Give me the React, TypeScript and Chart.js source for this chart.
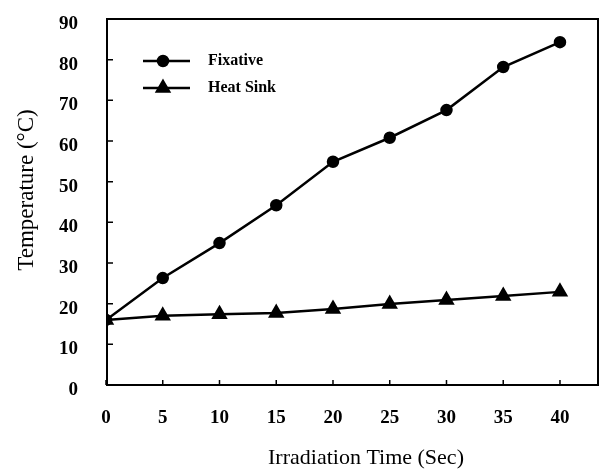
import React, { useEffect, useRef } from 'react';
import { Chart, registerables } from 'chart.js';
import { drawPoint } from 'chart.js/helpers';

Chart.register(...registerables);

const times = [0, 5, 10, 15, 20, 25, 30, 35, 40];
const fixative = [16, 26.3, 34.9, 44.2, 54.9, 60.8, 67.6, 78.2, 84.3];
const heatSink = [16, 17, 17.4, 17.7, 18.7, 19.9, 20.9, 21.9, 22.9];
const seriesNames = ['Fixative', 'Heat Sink'];
const xTitle = 'Irradiation Time (Sec)';
const yTitle = 'Temperature (\u00B0C)';

const SERIF = "'Liberation Serif', 'DejaVu Serif', serif";

const framePlugin = {
  id: 'frame',
  afterDatasetsDraw(chart: any) {
    const { ctx, chartArea } = chart;
    const { left, right, top, bottom } = chartArea;
    const xs = chart.scales.x;
    const ys = chart.scales.y;
    ctx.save();
    ctx.strokeStyle = '#000';
    ctx.lineWidth = 2;
    ctx.strokeRect(left + 1, top, right - left - 1, bottom - top);
    ctx.lineWidth = 1.5;
    ctx.beginPath();
    xs.ticks.forEach((t: any) => {
      const px = xs.getPixelForValue(t.value);
      ctx.moveTo(px, bottom);
      ctx.lineTo(px, bottom - 5);
    });
    ys.ticks.forEach((t: any) => {
      const py = ys.getPixelForValue(t.value);
      ctx.moveTo(left + 1, py);
      ctx.lineTo(left + 7, py);
    });
    ctx.stroke();

    // legend inside plot area
    chart.data.datasets.forEach((ds: any, i: number) => {
      const y = top + 42 + i * 27;
      const x0 = left + 37;
      const x1 = left + 84;
      ctx.strokeStyle = ds.borderColor;
      ctx.lineWidth = ds.borderWidth;
      ctx.beginPath();
      ctx.moveTo(x0, y);
      ctx.lineTo(x1, y);
      ctx.stroke();
      ctx.fillStyle = ds.pointBackgroundColor;
      ctx.strokeStyle = ds.pointBorderColor;
      drawPoint(ctx, { pointStyle: ds.pointStyle, radius: ds.pointRadius, borderWidth: 1, rotation: 0 }, left + 57, y);
      ctx.fillStyle = '#000';
      ctx.font = `bold 16px ${SERIF}`;
      ctx.textBaseline = 'middle';
      ctx.textAlign = 'left';
      ctx.fillText(ds.label, left + 102, y);
    });

    // axis titles
    ctx.fillStyle = '#000';
    ctx.textAlign = 'center';
    ctx.textBaseline = 'middle';
    ctx.font = `22px ${SERIF}`;
    ctx.fillText(xTitle, (left + right) / 2 + 14, bottom + 73);
    ctx.save();
    ctx.translate(left - 79, (top + bottom) / 2 - 12);
    ctx.rotate(-Math.PI / 2);
    ctx.font = `23px ${SERIF}`;
    ctx.fillText(yTitle, 0, 0);
    ctx.restore();
    ctx.restore();
  },
};

export default function App() {
  const ref = useRef<HTMLCanvasElement | null>(null);
  useEffect(() => {
    if (!ref.current) return;
    const chart = new Chart(ref.current, {
      type: 'line',
      data: {
        datasets: [
          {
            label: seriesNames[0],
            data: times.map((t, i) => ({ x: t, y: fixative[i] })),
            borderColor: '#000',
            backgroundColor: '#000',
            pointBackgroundColor: '#000',
            pointBorderColor: '#000',
            borderWidth: 2.5,
            pointStyle: 'circle',
            pointRadius: 5,
            tension: 0,
          },
          {
            label: seriesNames[1],
            data: times.map((t, i) => ({ x: t, y: heatSink[i] })),
            borderColor: '#000',
            backgroundColor: '#000',
            pointBackgroundColor: '#000',
            pointBorderColor: '#000',
            borderWidth: 2.5,
            pointStyle: 'triangle',
            pointRadius: 7,
            tension: 0,
          },
        ],
      },
      options: {
        animation: false,
        responsive: true,
        maintainAspectRatio: false,
        layout: { padding: { top: 19, right: 11, left: 0, bottom: 0 } },
        plugins: { legend: { display: false }, tooltip: { enabled: false } },
        scales: {
          x: {
            type: 'linear',
            min: 0,
            max: 43.35,
            grid: { display: false, drawTicks: false },
            border: { display: false },
            ticks: {
              stepSize: 5,
              includeBounds: false,
              color: '#000',
              padding: 22,
              font: { family: SERIF, size: 19, weight: 'bold' },
            },
            afterFit: (s: any) => { s.height = 84; s.paddingLeft = 0; s.paddingRight = 0; },
          },
          y: {
            type: 'linear',
            min: 0,
            max: 90,
            grid: { display: false, drawTicks: false },
            border: { display: false },
            ticks: {
              stepSize: 10,
              color: '#000',
              padding: 28,
              labelOffset: 5,
              font: { family: SERIF, size: 19, weight: 'bold' },
            },
            afterFit: (s: any) => { s.width = 106; s.paddingTop = 0; s.paddingBottom = 0; },
          },
        },
      },
      plugins: [framePlugin],
    } as any);
    return () => chart.destroy();
  }, []);
  return (
    <div style={{ position: 'fixed', left: 0, top: 0, width: 609, height: 469 }}>
      <canvas ref={ref} />
    </div>
  );
}
